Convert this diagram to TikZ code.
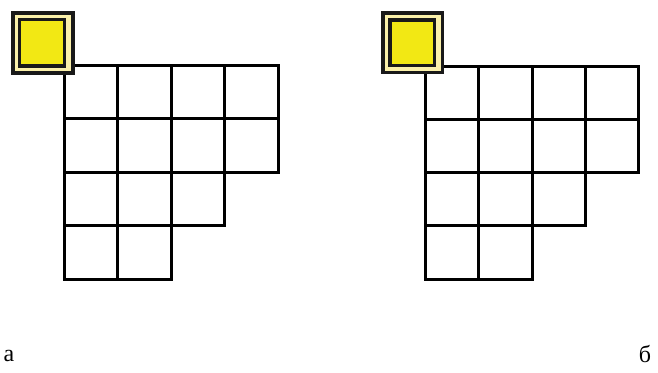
\documentclass[tikz,border=0pt]{standalone}
\usepackage{fontspec}
\setmainfont{Liberation Serif}
\definecolor{sqyellow}{RGB}{242,232,20}
\definecolor{paleyellow}{RGB}{250,240,170}
\begin{document}
\begin{tikzpicture}[x={(1pt,0)},y={(0,-1pt)},
  gridline/.style={line width=3pt,black,line cap=rect},
  outerbox/.style={line width=3.6pt,black!90,fill=paleyellow},
  innerbox/.style={line width=3.6pt,black!90,fill=sqyellow},
  lbl/.style={font=\fontsize{24}{28}\selectfont,inner sep=0pt}]
\useasboundingbox (0,0) rectangle (658,372);
% ---- panel a ----
\begin{scope}[shift={(64.5,65.5)}]
  \def\c{53.4}
  % rows: 4,4,3,2 cells
  \foreach \r/\n in {0/4,1/4,2/3,3/2}{
    \foreach \k in {1,...,\n}{
      \draw[gridline] ({(\k-1)*\c},{\r*\c}) rectangle ({\k*\c},{(\r+1)*\c});
    }
  }
\end{scope}
\draw[outerbox] (13,13) rectangle (73,73);
\draw[innerbox] (19.5,19.5) rectangle (64.5,66);
\node[lbl] (la) at (9,356) {а};
% ---- panel b ----
\begin{scope}[shift={(425.5,66)}]
  \def\c{53.3}
  \foreach \r/\n in {0/4,1/4,2/3,3/2}{
    \foreach \k in {1,...,\n}{
      \draw[gridline] ({(\k-1)*\c},{\r*\c}) rectangle ({\k*\c},{(\r+1)*\c});
    }
  }
\end{scope}
\draw[outerbox] (383,13) rectangle (442.5,72.5);
\draw[innerbox] (390,20) rectangle (434.5,65.5);
\node[lbl] (lb) at (645,354) {б};
\end{tikzpicture}
\end{document}
